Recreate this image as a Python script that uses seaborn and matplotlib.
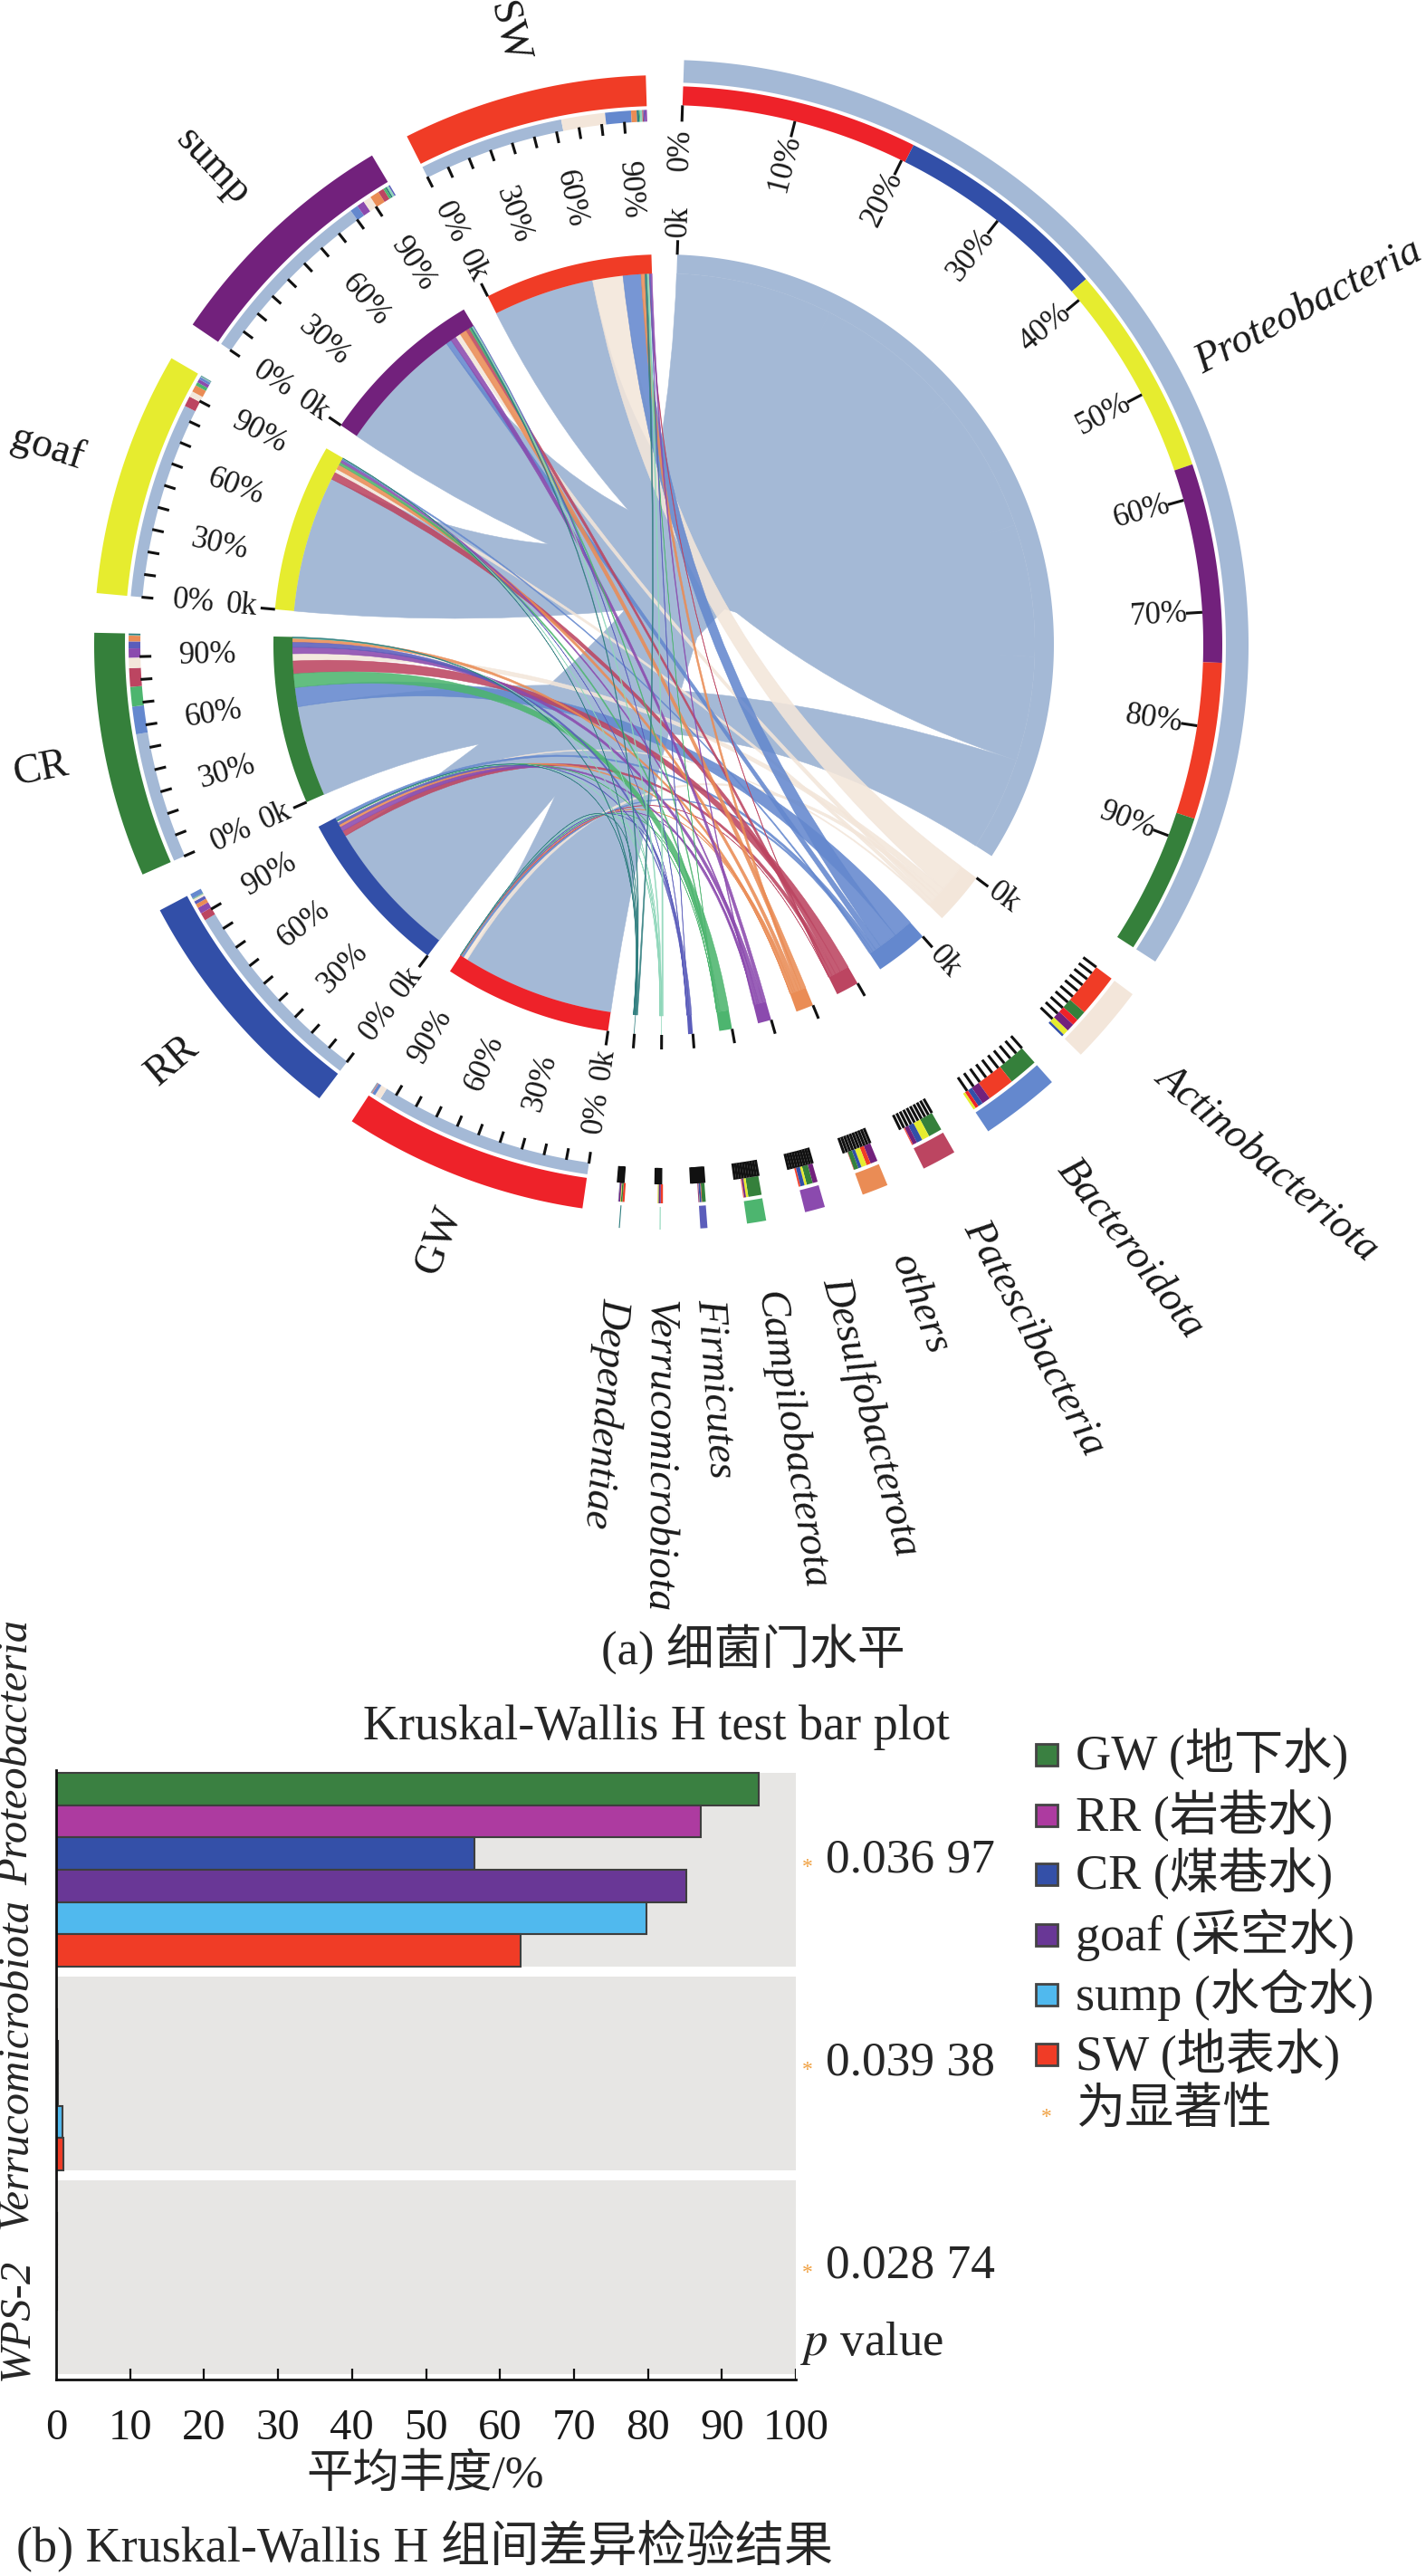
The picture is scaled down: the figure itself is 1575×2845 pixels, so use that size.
"""
plot.py - chord diagram of phylum abundance per water type and Kruskal-Wallis bar plot
"""

import numpy as np
import pandas as pd
import matplotlib
matplotlib.use("Agg")
import matplotlib.pyplot as plt
from matplotlib.path import Path
from matplotlib.patches import PathPatch, Rectangle
import seaborn as sns

# Chord data: percent of every phylum in each water type
phyla = ["Proteobacteria", "Actinobacteriota", "Bacteroidota", "Patescibacteria", "others",
         "Desulfobacterota", "Campilobacterota", "Firmicutes", "Verrucomicrobiota", "Dependentiae"]
sources = ["GW", "RR", "CR", "goaf", "sump", "SW"]

gw_share = [95.0, 2.8, 1.4, 0.15, 0.2, 0.15, 0.1, 0.1, 0.05, 0.05]
rr_share = [87.2, 1.0, 2.0, 3.4, 1.8, 2.7, 0.2, 1.4, 0.1, 0.2]
cr_share = [56.6, 4.5, 12.0, 8.0, 2.5, 4.0, 8.5, 3.0, 0.2, 0.7]
goaf_share = [85.2, 2.5, 1.0, 4.5, 3.0, 1.5, 1.5, 0.2, 0.3, 0.3]
sump_share = [80.0, 3.5, 3.5, 2.5, 4.0, 3.3, 1.0, 0.6, 0.9, 0.7]
sw_share = [63.0, 19.0, 11.2, 0.5, 2.4, 1.0, 0.4, 0.5, 1.0, 1.0]
source_shares = [gw_share, rr_share, cr_share, goaf_share, sump_share, sw_share]

# Width of each phylum sector (outer ring), same percent units as the shares
phylum_totals = [483.2, 31.2, 31.6, 13.6, 10.4, 8.0, 7.6, 2.8, 0.4, 0.4]
# Width the ribbons and the stacked ring take at that phylum
ribbon_totals = [483.2, 31.2, 31.6, 13.6, 10.4, 8.0, 7.6, 3.0, 2.2, 2.6]
# Angle covered by the ten scale ticks at each phylum
tick_spans = [120.8, 8.0, 8.2, 4.2, 3.3, 2.9, 2.8, 1.5, 0.6, 0.6]

# Clockwise order of the segments inside each sector (indexes into phyla / sources)
source_orders = [
    [0, 1, 2, 4, 3, 5, 6, 7, 8, 9],
    [0, 3, 5, 4, 7, 1, 6, 8, 9, 2],
    [0, 2, 6, 3, 1, 5, 7, 4, 8, 9],
    [0, 3, 1, 4, 6, 5, 2, 7, 8, 9],
    [0, 2, 5, 1, 4, 3, 6, 9, 8, 7],
    [0, 1, 2, 4, 9, 6, 8, 3, 7, 5],
]
phylum_orders = [
    [0, 1, 3, 4, 5, 2],
    [5, 2, 0, 4, 3, 1],
    [2, 5, 4, 1, 0, 3],
    [2, 3, 1, 4, 5, 0],
    [4, 5, 3, 1, 2, 0],
    [4, 2, 3, 1, 0, 5],
    [2, 3, 4, 1, 5, 0],
    [2, 5, 1, 3, 4, 0],
    [5, 1, 4, 2, 3, 0],
    [5, 2, 3, 4, 1, 0],
]

phylum_colors = ["#A4B9D6", "#F3E6DA", "#6488CE", "#BC4561", "#EA8C55",
                 "#8B4AAE", "#4DB56F", "#5B5DBB", "#8FD7BA", "#2E7D7E"]
source_colors = ["#EE2229", "#324FA8", "#35803B", "#E6EC2F", "#72217C", "#F03C26"]

# Bar plot data: mean abundance (%)
bar_phyla = ["Proteobacteria", "Verrucomicrobiota", "WPS-2"]
bar_groups = ["GW", "RR", "CR", "goaf", "sump", "SW"]
proteo_mean = [95.0, 87.2, 56.6, 85.2, 79.8, 62.8]
verruco_mean = [0.05, 0.1, 0.2, 0.3, 0.9, 1.0]
wps_mean = [0.05, 0.1, 0.15, 0.1, 0.0, 0.0]
p_values = ["0.036 97", "0.039 38", "0.028 74"]
legend_labels = ["GW (地下水)", "RR (岩巷水)", "CR (煤巷水)", "goaf (采空水)", "sump (水仓水)", "SW (地表水)"]
bar_colors = ["#3A8041", "#AD3BA0", "#3450A8", "#693796", "#50B9EE", "#F03C26"]
x_ticks = list(range(0, 101, 10))

SERIF = ["Liberation Serif", "Noto Sans CJK SC"]
CX, CY = 733, 712
DEG_PER_PCT = 0.25
CHORD_R, BAND_R = 431, 410


def polar(r, deg):
    rad = np.deg2rad(deg)
    return CX + r * np.sin(rad), CY - r * np.cos(rad)


def arc_points(r, a0, a1):
    n = max(int(abs(a1 - a0) * 2) + 2, 3)
    x, y = polar(r, np.linspace(a0, a1, n))
    return np.column_stack([x, y])


def ring_segment(ax, a0, a1, r0, r1, color):
    pts = np.vstack([arc_points(r1, a0, a1), arc_points(r0, a1, a0)])
    ax.fill(pts[:, 0], pts[:, 1], color=color, lw=0, zorder=3)


def ribbon(ax, s0, s1, t0, t1, color, alpha):
    # source arc, bezier through the centre, phylum arc, bezier back
    src = arc_points(BAND_R, s0, s1)
    tgt = arc_points(BAND_R, t0, t1)
    verts = list(map(tuple, src)) + [(CX, CY)] + list(map(tuple, tgt)) + [(CX, CY), tuple(src[0])]
    codes = [Path.MOVETO] + [Path.LINETO] * (len(src) - 1) + [Path.CURVE3] + [Path.CURVE3]
    codes += [Path.LINETO] * (len(tgt) - 1) + [Path.CURVE3, Path.CURVE3]
    ax.add_patch(PathPatch(Path(verts, codes), facecolor=color, edgecolor=color,
                           lw=0.4, alpha=alpha, zorder=2))


def tick(ax, deg, r0, r1, lw=2.2):
    x, y = polar(np.array([r0, r1]), deg)
    ax.plot(x, y, color="#111111", lw=lw, solid_capstyle="butt", zorder=4)


def radial_text(ax, text, r, deg, ha="left", size=25, outward=None, **kw):
    x, y = polar(r, deg)
    if outward is None:
        outward = deg < 180
    rot = 90 - deg if outward else 270 - deg
    ax.text(x, y, text, rotation=rot, rotation_mode="anchor", ha=ha, va="center",
            fontsize=size, color="#1a1a1a", zorder=5, **kw)


def draw_chord(ax):
    gap_phylum, gap_source, angle = 3.9, 4.0, 2.0

    # layout of the phylum sectors
    phylum_spans = []
    for total in phylum_totals:
        phylum_spans.append((angle, angle + total * DEG_PER_PCT))
        angle += total * DEG_PER_PCT + gap_phylum

    # segment positions on the phylum side, centred on the sector
    shares = np.array(source_shares)
    target = {}
    for j, (a0, a1) in enumerate(phylum_spans):
        order = phylum_orders[j]
        width = ribbon_totals[j] * DEG_PER_PCT
        scale = width / shares[order, j].sum()
        pos = (a0 + a1 - width) / 2
        for i in order:
            target[(i, j)] = (pos, pos + shares[i, j] * scale)
            pos += shares[i, j] * scale

    # layout of the source sectors, ribbons and stack ring
    angle = 188.2
    source_spans = []
    links = []
    for i, share in enumerate(source_shares):
        a0 = angle
        scale = 25.0 / sum(share)
        pos = a0
        for j in source_orders[i]:
            width = share[j] * scale
            links.append((j, i, pos, pos + width))
            ring_segment(ax, pos, pos + width, 578, 591, phylum_colors[j])
            pos += width
        source_spans.append((a0, pos))
        angle = pos + gap_source

    # proteobacteria sits at the bottom, the thin ribbons above it
    for j, i, s0, s1 in sorted(links, key=lambda item: item[0]):
        t0, t1 = target[(i, j)]
        ribbon(ax, s0, s1, t0, t1, phylum_colors[j], 1.0 if j == 0 else 0.88)

    # phylum sectors
    for j, (a0, a1) in enumerate(phylum_spans):
        ring_segment(ax, a0, a1, 621, 646, phylum_colors[j])
        ring_segment(ax, a0, a1, BAND_R, CHORD_R, phylum_colors[j])
        for i in phylum_orders[j]:
            t0, t1 = target[(i, j)]
            ring_segment(ax, t0, t1, 596, 617, source_colors[i])
        for k in range(10):
            tick(ax, a0 + tick_spans[j] * k / 10, 578, 596)
        tick(ax, a0, CHORD_R, 447)
        if j == 0:
            for k in range(10):
                radial_text(ax, f"{k * 10}%", 570 if k == 0 else 580, a0 + (a1 - a0) * k / 10, ha="right")
            radial_text(ax, phyla[j], 666, (a0 + a1) / 2, size=33, style="italic")
        else:
            radial_text(ax, phyla[j], 724, (a0 + a1) / 2, size=33, style="italic", outward=True)
        if j < 3:
            radial_text(ax, "0k", 451, a0)

    # source sectors
    source_label_r = [703, 711, 702, 715, 726, 697]
    for i, (a0, a1) in enumerate(source_spans):
        ring_segment(ax, a0, a1, 595, 629, source_colors[i])
        ring_segment(ax, a0, a1, BAND_R, CHORD_R, source_colors[i])
        for k in range(10):
            deg = a0 + (a1 - a0) * k / 10
            tick(ax, deg, 566, 579)
            if k % 3 == 0:
                radial_text(ax, f"{k * 10}%", 545 if k == 0 else 535, deg)
        tick(ax, a0, CHORD_R, 447)
        radial_text(ax, "0k", 451, a0, ha="right")
        radial_text(ax, sources[i], source_label_r[i], (a0 + a1) / 2, ha="center", size=33)


def draw_bars(fig, overlay):
    df = pd.DataFrame({"Group": bar_groups, bar_phyla[0]: proteo_mean,
                       bar_phyla[1]: verruco_mean, bar_phyla[2]: wps_mean})
    df = df.melt(id_vars="Group", var_name="Phylum", value_name="Abundance")

    W, H = fig.get_size_inches() * fig.dpi
    ax = fig.add_axes([62 / W, 1 - 2628 / H, (879 - 62) / W, (2628 - 1955) / H])
    ax.patch.set_alpha(0)
    band = 0.951
    for i in range(len(bar_phyla)):
        ax.axhspan(i - band / 2, i + band / 2, color="#E7E6E4", lw=0, zorder=0)
    sns.barplot(data=df, y="Phylum", x="Abundance", hue="Group", order=bar_phyla, hue_order=bar_groups,
                palette=bar_colors, saturation=1, width=band, edgecolor="#3e3e3e", linewidth=1.5,
                legend=False, orient="h", ax=ax, zorder=2)
    ax.set_xlim(0, 100)
    ax.set_ylim(2.502, -0.489)
    ax.set_xticks(x_ticks)
    ax.set_yticks([])
    ax.set_xlabel("")
    ax.set_ylabel("")
    ax.tick_params(axis="x", bottom=False, labelsize=35, pad=17, labelcolor="#1a1a1a")
    # inward ticks, 12 px tall, drawn above the grey bands
    ax.vlines(x_ticks, 0, 12 / (2628 - 1955), transform=ax.get_xaxis_transform(),
              color="#111111", lw=1.6, zorder=6)
    sns.despine(ax=ax)
    for side in ["left", "bottom"]:
        ax.spines[side].set_linewidth(2)
        ax.spines[side].set_color("#111111")

    # phylum names, p values and legend share the pixel overlay
    name_y = [1935, 2279, 2561]
    for name, y in zip(bar_phyla, name_y):
        overlay.text(18, y, name, rotation=90, style="italic", ha="center", va="center", fontsize=35)
    p_y = [2055, 2279, 2503]
    for text, y in zip(p_values, p_y):
        overlay.text(892, y + 8, "*", color="#F0A040", ha="center", va="center", fontsize=17)
        overlay.text(912, y, text, ha="left", va="center", fontsize=38.5)
    overlay.text(884, 2588, "$\\mathit{p}$ value", ha="left", va="center", fontsize=38,
                 math_fontfamily="stix")
    overlay.text(725, 1908, "Kruskal-Wallis H test bar plot", ha="center", va="center", fontsize=39)
    overlay.text(832, 1822, "(a) 细菌门水平", ha="center", va="center", fontsize=38)
    overlay.text(470, 2734, "平均丰度/%", ha="center", va="center", fontsize=37)
    overlay.text(18, 2811, "(b) Kruskal-Wallis H 组间差异检验结果", ha="left", va="center", fontsize=39)

    legend_y = [1938, 2005, 2070, 2137, 2203, 2269]
    for label, color, y in zip(legend_labels, bar_colors, legend_y):
        overlay.add_patch(Rectangle((1144, y - 12), 24, 24, facecolor=color, edgecolor="#444444", lw=2))
        overlay.text(1188, y, label, ha="left", va="center", fontsize=39)
    overlay.text(1156, 2338, "*", color="#F0A040", ha="center", va="center", fontsize=17)
    overlay.text(1188, 2332, "为显著性", ha="left", va="center", fontsize=39)


def main():
    sns.set_theme(style="white")
    plt.rcParams["font.family"] = SERIF
    plt.rcParams["axes.unicode_minus"] = False

    fig = plt.figure(figsize=(15.75, 28.45), dpi=100, facecolor="white")
    overlay = fig.add_axes([0, 0, 1, 1])
    overlay.set_xlim(0, 1575)
    overlay.set_ylim(2845, 0)
    overlay.axis("off")

    draw_chord(overlay)
    draw_bars(fig, overlay)

    fig.savefig("out.png", dpi=100)


if __name__ == "__main__":
    main()
